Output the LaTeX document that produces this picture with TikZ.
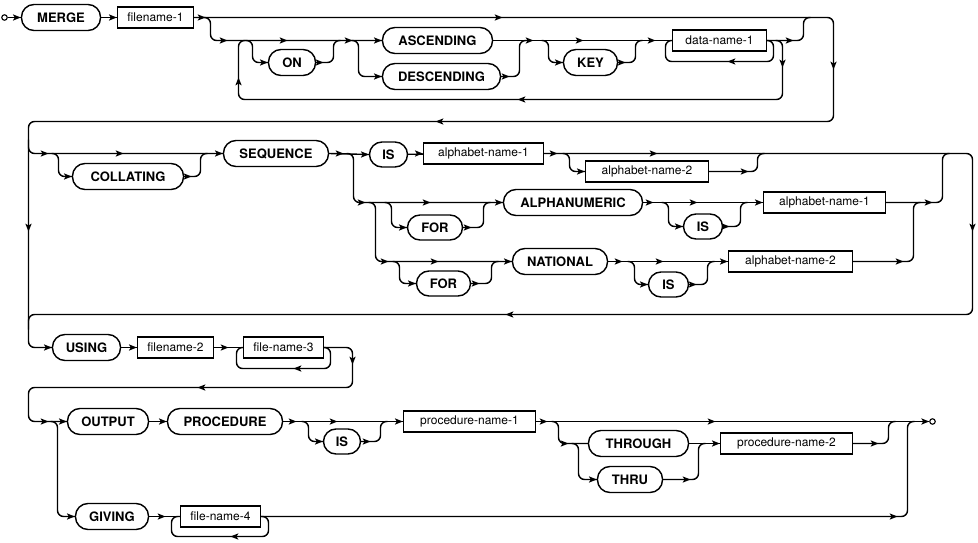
\documentclass[tikz,border=0pt]{standalone}
\usepackage{fontspec}
\setmainfont{TeX Gyre Heros}
\newcommand\kwfont{\fontsize{13}{15}\selectfont\bfseries}
\newcommand\nmfont{\fontsize{12}{14}\selectfont}
\begin{document}
\begin{tikzpicture}[x=1pt,y=-1pt,line width=1.4pt,
  rail/.style={rounded corners=6pt},
  term/.style={draw,rounded corners=12.5pt,minimum height=26pt,inner sep=0pt,font=\kwfont},
  sterm/.style={term,minimum height=25pt},
  nterm/.style={draw,minimum height=21pt,inner sep=0pt,font=\nmfont},
  endpt/.style={circle,draw,line width=1.1pt,minimum size=5.5pt,inner sep=0pt},
  tR/.pic={\fill (0,0) -- (-8,-3.2) -- (-6,0) -- (-8,3.2) -- cycle;},
  tL/.pic={\fill (0,0) -- (8,-3.2) -- (6,0) -- (8,3.2) -- cycle;},
  tD/.pic={\fill (0,0) -- (-3.2,-8) -- (0,-6) -- (3.2,-8) -- cycle;},
  tU/.pic={\fill (0,0) -- (-3.2,8) -- (0,6) -- (3.2,8) -- cycle;}]
\useasboundingbox (0,0) rectangle (978,543);
\begin{scope}[shift={(0.5,-0.5)}]
% ---------- nodes ----------
\node[endpt] (start) at (4,18) {};
\node[term,minimum width=79pt] (merge) at (60.5,18) {MERGE};
\node[nterm,minimum width=76pt] (fn1) at (155,18) {filename-1};
\node[term,minimum width=47pt] (on) at (291.5,63) {ON};
\node[term,minimum width=110pt] (asc) at (437,41) {ASCENDING};
\node[term,minimum width=118pt] (desc) at (441,77) {DESCENDING};
\node[term,minimum width=54pt] (key) at (590,63) {KEY};
\node[nterm,minimum width=94pt] (dn1) at (719,41) {data-name-1};

\node[term,minimum width=111pt] (coll) at (127.5,177) {COLLATING};
\node[term,minimum width=105pt] (seq) at (275.5,154) {SEQUENCE};
\node[sterm,minimum width=38pt] (is1) at (388,155) {IS};
\node[nterm,minimum width=120pt] (an1) at (483,154) {alphabet-name-1};
\node[nterm,minimum width=123pt] (an2) at (646.5,172) {alphabet-name-2};
\node[sterm,minimum width=55pt] (for1) at (434.5,228) {FOR};
\node[term,minimum width=139pt] (alnum) at (572.5,203) {ALPHANUMERIC};
\node[sterm,minimum width=39pt] (is2) at (702.5,227) {IS};
\node[nterm,minimum width=122pt] (an1b) at (824,203) {alphabet-name-1};
\node[sterm,minimum width=54pt] (for2) at (443,284) {FOR};
\node[term,minimum width=95pt] (nat) at (559.5,262) {NATIONAL};
\node[sterm,minimum width=40pt] (is3) at (668,285) {IS};
\node[nterm,minimum width=124pt] (an2b) at (790,262) {alphabet-name-2};

\node[term,minimum width=68pt] (using) at (86,348) {USING};
\node[nterm,minimum width=76pt] (fn2) at (175,348) {filename-2};
\node[nterm,minimum width=80pt] (fn3) at (283,348) {file-name-3};

\node[term,minimum width=81pt] (out) at (107.5,422) {OUTPUT};
\node[term,minimum width=115pt] (proc) at (224.5,422) {PROCEDURE};
\node[sterm,minimum width=37pt] (is4) at (341.5,442) {IS};
\node[nterm,minimum width=132pt] (pn1) at (469,422) {procedure-name-1};
\node[term,minimum width=100pt] (thr) at (638,444) {THROUGH};
\node[term,minimum width=65pt] (thru) at (629.5,480) {THRU};
\node[nterm,minimum width=132pt] (pn2) at (786,444) {procedure-name-2};
\node[endpt] (fin) at (932,422) {};
\node[term,minimum width=73pt] (giv) at (111.5,517) {GIVING};
\node[nterm,minimum width=80pt] (fn4) at (220,517) {file-name-4};

% ---------- row 1 ----------
\draw (start) -- (merge); \pic at (merge.west) {tR};
\draw (merge) -- (fn1); \pic at (fn1.west) {tR};
\draw[rail] (fn1.east) -- (833,18) -- (833,122) -- (28,122) -- (28,348) -- (using.west);
\pic at (205,18) {tR}; \pic at (502,18) {tR}; \pic at (833,70) {tD};
\pic at (435,122) {tL}; \pic at (28,232) {tD}; \pic at (using.west) {tR};

\draw[rail] (203,18) -- (210,18) -- (210,41) -- (asc.west);
\pic at (227,41) {tR}; \pic at (287,41) {tR}; \pic at (352,41) {tR}; \pic at (asc.west) {tR};
\draw[rail] (775,41) -- (782,41) -- (782,100) -- (238,100) -- (238,41) -- (245,41);
\pic at (782,68) {tD}; \pic at (517,100) {tL}; \pic at (238,78) {tU};
\draw[rail] (245,41) -- (252,41) -- (252,63) -- (on.west); \pic at (on.west) {tR};
\draw[rail] (on.east) -- (333,63) -- (333,41) -- (340,41); \pic at (323,63) {tR};
\draw[rail] (351,41) -- (358,41) -- (358,77) -- (desc.west); \pic at (desc.west) {tR};
\draw[rail] (desc.east) -- (519,77) -- (519,41) -- (526,41); \pic at (509,77) {tR};
\draw (asc.east) -- (dn1.west);
\pic at (533,41) {tR}; \pic at (583,41) {tR}; \pic at (655,41) {tR};
\draw[rail] (541,41) -- (548,41) -- (548,63) -- (key.west); \pic at (key.west) {tR};
\draw[rail] (key.east) -- (635,63) -- (635,41) -- (642,41); \pic at (625,63) {tR};
\draw[rail] (dn1.east) -- (773,41) -- (773,62) -- (665,62) -- (665,41) -- (dn1.west);
\pic at (727,62) {tL};
\draw[rail] (dn1.east) -- (803,41) -- (803,18) -- (810,18); \pic at (793,41) {tR};

% ---------- row 2 ----------
\draw[rail] (28,140) -- (28,154) -- (seq.west);
\pic at (48,154) {tR}; \pic at (123,154) {tR}; \pic at (seq.west) {tR};
\draw[rail] (51,154) -- (58,154) -- (58,177) -- (coll.west); \pic at (coll.west) {tR};
\draw[rail] (coll.east) -- (200,177) -- (200,154) -- (207,154); \pic at (191,177) {tR};
\draw (seq.east) -- (is1.west); \pic at (343,154) {tR}; \pic at (is1.west) {tR};
\draw (is1) -- (an1); \pic at (an1.west) {tR};
\draw[rail] (an1.east) -- (972,154) -- (972,315) -- (28,315) -- (28,330);
\pic at (557,154) {tR}; \pic at (657,154) {tR}; \pic at (972,232) {tD}; \pic at (505,315) {tL};
\draw[rail] (562,154) -- (569,154) -- (569,172) -- (an2.west); \pic at (an2.west) {tR};
\draw[rail] (an2.east) -- (757,172) -- (757,154) -- (764,154); \pic at (748,172) {tR};

\draw[rail] (346,154) -- (353,154) -- (353,203) -- (alnum.west);
\pic at (365,203) {tR}; \pic at (430,203) {tR}; \pic at (alnum.west) {tR};
\draw[rail] (368,203) -- (375,203) -- (375,262) -- (nat.west);
\pic at (388,262) {tR}; \pic at (438,262) {tR}; \pic at (nat.west) {tR};
\draw[rail] (384,203) -- (391,203) -- (391,228) -- (for1.west); \pic at (for1.west) {tR};
\draw[rail] (for1.east) -- (483,228) -- (483,203) -- (490,203); \pic at (471,228) {tR};
\draw[rail] (392,262) -- (399,262) -- (399,284) -- (for2.west); \pic at (for2.west) {tR};
\draw[rail] (for2.east) -- (491,284) -- (491,262) -- (498,262); \pic at (479,284) {tR};
\draw (alnum.east) -- (an1b.west);
\pic at (653,203) {tR}; \pic at (697,203) {tR}; \pic at (an1b.west) {tR};
\draw[rail] (661,203) -- (668,203) -- (668,227) -- (is2.west); \pic at (is2.west) {tR};
\draw[rail] (is2.east) -- (740,227) -- (740,203) -- (747,203); \pic at (729,227) {tR};
\draw[rail] (an1b.east) -- (942,203) -- (942,154) -- (949,154); \pic at (932,203) {tR};
\draw (nat.east) -- (an2b.west);
\pic at (622,262) {tR}; \pic at (663,262) {tR}; \pic at (an2b.west) {tR};
\draw[rail] (627,262) -- (634,262) -- (634,285) -- (is3.west); \pic at (is3.west) {tR};
\draw[rail] (is3.east) -- (707,285) -- (707,262) -- (714,262); \pic at (696,285) {tR};
\draw[rail] (an2b.east) -- (913,262) -- (913,203) -- (920,203); \pic at (903,262) {tR};

% ---------- row 3 ----------
\draw (using) -- (fn2); \pic at (fn2.west) {tR};
\draw (fn2) -- (fn3); \pic at (228,348) {tR};
\draw[rail] (fn3.east) -- (330,348) -- (330,369) -- (236,369) -- (236,348) -- (fn3.west);
\pic at (293,369) {tL};
\draw[rail] (fn3.east) -- (352,348) -- (352,388) -- (28,388) -- (28,422) -- (out.west);
\pic at (352,365) {tD}; \pic at (197,388) {tL}; \pic at (48,422) {tR}; \pic at (out.west) {tR};

% ---------- row 4 ----------
\draw[rail] (50,422) -- (57,422) -- (57,517) -- (giv.west); \pic at (giv.west) {tR};
\draw (out) -- (proc); \pic at (proc.west) {tR};
\draw (proc.east) -- (pn1.west);
\pic at (296,422) {tR}; \pic at (337,422) {tR}; \pic at (pn1.west) {tR};
\draw[rail] (301,422) -- (308,422) -- (308,442) -- (is4.west); \pic at (is4.west) {tR};
\draw[rail] (is4.east) -- (380,442) -- (380,422) -- (387,422); \pic at (370,442) {tR};
\draw (pn1.east) -- (fin.west);
\pic at (547,422) {tR}; \pic at (715,422) {tR}; \pic at (fin.west) {tR};
\draw[rail] (551,422) -- (558,422) -- (558,444) -- (thr.west); \pic at (568,444) {tR};
\draw[rail] (571,444) -- (578,444) -- (578,480) -- (thru.west); \pic at (thru.west) {tR};
\draw (thr.east) -- (pn2.west); \pic at (pn2.west) {tR};
\draw[rail] (thru.east) -- (698,480) -- (698,444) -- (705,444); \pic at (690,480) {tR};
\draw[rail] (pn2.east) -- (888,444) -- (888,422) -- (895,422); \pic at (878,444) {tR};
\draw (giv) -- (fn4); \pic at (165,517) {tR};
\draw[rail] (fn4.east) -- (268,517) -- (268,537) -- (171,537) -- (171,517) -- (fn4.west);
\pic at (230,537) {tL};
\draw[rail] (fn4.east) -- (907,517) -- (907,422) -- (914,422); \pic at (897,517) {tR};
\end{scope}
\end{tikzpicture}
\end{document}
